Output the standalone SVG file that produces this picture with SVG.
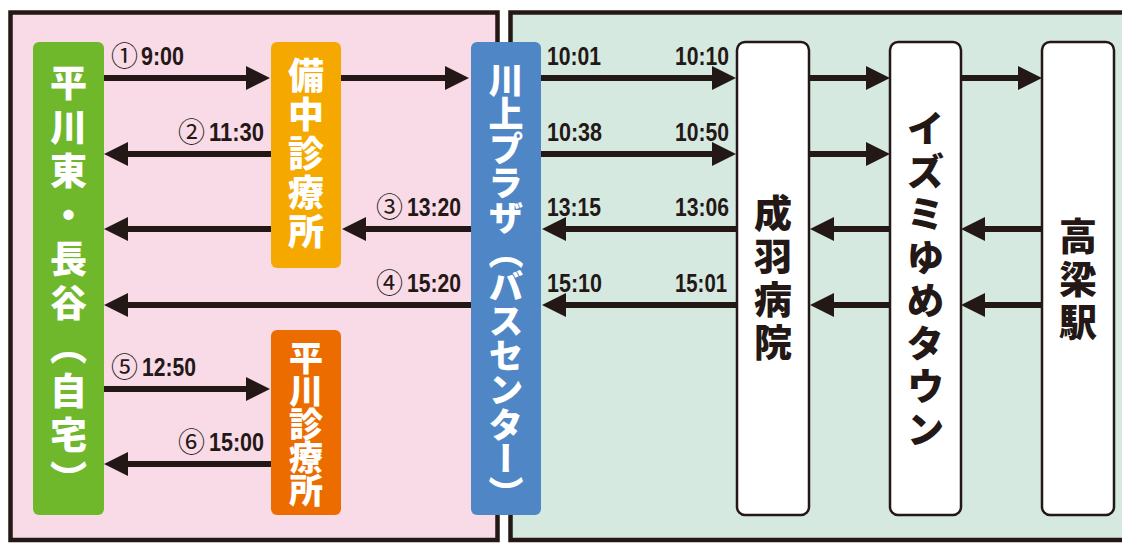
<svg xmlns="http://www.w3.org/2000/svg" width="1122" height="543" viewBox="0 0 1122 543">
<defs>
<marker id="ah" markerUnits="userSpaceOnUse" markerWidth="24" markerHeight="24" refX="4" refY="12" orient="auto">
<path d="M0,0 L24,12 L0,24 Z" fill="#231815"/>
</marker>
<style>
.conn line{stroke:#231815;stroke-width:6;marker-end:url(#ah)}
.num{font-family:"Noto Sans CJK JP",sans-serif;font-size:27px;fill:#231815}
.tm{font-family:"Liberation Sans Narrow","Liberation Sans",sans-serif;font-weight:bold;font-size:25px;fill:#231815}
.vt{font-family:"Noto Sans CJK JP",sans-serif;font-weight:900;writing-mode:vertical-rl;text-anchor:middle}
.w{fill:#ffffff}
.b{fill:#231815}
.wbox{fill:#ffffff;stroke:#231815;stroke-width:2.5}
</style>
</defs>
<rect x="0" y="0" width="1122" height="543" fill="#ffffff"/>
<g id="panel-left">
<rect x="10.5" y="12.5" width="487" height="527.5" fill="#f8dbe7" stroke="#231815" stroke-width="4.5"/>
</g>
<g id="panel-right">
<rect x="510.5" y="12.5" width="700" height="527.5" fill="#d5e9e0" stroke="#231815" stroke-width="4.5"/>
</g>
<g id="connectors" class="conn">
<line x1="104" y1="78" x2="250" y2="78"/>
<line x1="341" y1="78" x2="449" y2="78"/>
<line x1="271" y1="154" x2="124" y2="154"/>
<line x1="271" y1="229" x2="124" y2="229"/>
<line x1="471" y1="229" x2="362" y2="229"/>
<line x1="471" y1="305" x2="124" y2="305"/>
<line x1="104" y1="389" x2="250" y2="389"/>
<line x1="271" y1="464" x2="124" y2="464"/>
<line x1="541" y1="78" x2="716" y2="78"/>
<line x1="809" y1="78" x2="870" y2="78"/>
<line x1="961" y1="78" x2="1022" y2="78"/>
<line x1="541" y1="154" x2="716" y2="154"/>
<line x1="809" y1="154" x2="870" y2="154"/>
<line x1="737" y1="229" x2="562" y2="229"/>
<line x1="890" y1="229" x2="830" y2="229"/>
<line x1="1042" y1="229" x2="981" y2="229"/>
<line x1="737" y1="305" x2="562" y2="305"/>
<line x1="890" y1="305" x2="830" y2="305"/>
<line x1="1042" y1="305" x2="981" y2="305"/>
</g>
<g id="labels">
<text class="num" x="111" y="66">①</text><text class="tm" x="141" y="65" textLength="43" lengthAdjust="spacingAndGlyphs">9:00</text>
<text class="num" x="178" y="142">②</text><text class="tm" x="209" y="141" textLength="55" lengthAdjust="spacingAndGlyphs">11:30</text>
<text class="num" x="376" y="217">③</text><text class="tm" x="407" y="216" textLength="54" lengthAdjust="spacingAndGlyphs">13:20</text>
<text class="num" x="376" y="293">④</text><text class="tm" x="407" y="292" textLength="54" lengthAdjust="spacingAndGlyphs">15:20</text>
<text class="num" x="111" y="377">⑤</text><text class="tm" x="142" y="376" textLength="54" lengthAdjust="spacingAndGlyphs">12:50</text>
<text class="num" x="178" y="452">⑥</text><text class="tm" x="209" y="451" textLength="55" lengthAdjust="spacingAndGlyphs">15:00</text>
<text class="tm" x="547" y="65" textLength="54" lengthAdjust="spacingAndGlyphs">10:01</text>
<text class="tm" x="675" y="65" textLength="54" lengthAdjust="spacingAndGlyphs">10:10</text>
<text class="tm" x="547" y="141" textLength="55" lengthAdjust="spacingAndGlyphs">10:38</text>
<text class="tm" x="675" y="141" textLength="54" lengthAdjust="spacingAndGlyphs">10:50</text>
<text class="tm" x="547" y="216" textLength="54" lengthAdjust="spacingAndGlyphs">13:15</text>
<text class="tm" x="675" y="216" textLength="54" lengthAdjust="spacingAndGlyphs">13:06</text>
<text class="tm" x="547" y="292" textLength="55" lengthAdjust="spacingAndGlyphs">15:10</text>
<text class="tm" x="675" y="292" textLength="52" lengthAdjust="spacingAndGlyphs">15:01</text>
</g>
<g id="node-home">
<rect x="33" y="42" width="71" height="473" rx="6" fill="#6fb82c"/>
<text class="vt w" x="68.5" y="284" font-size="37" letter-spacing="7">平川東・長谷（自宅）</text>
</g>
<g id="node-bicchu">
<rect x="271" y="42" width="70" height="226" rx="6" fill="#f5a800"/>
<text class="vt w" x="306" y="155" font-size="36" letter-spacing="3">備中診療所</text>
</g>
<g id="node-hirakawa">
<rect x="271" y="330" width="70" height="185" rx="6" fill="#ec6c00"/>
<text class="vt w" x="306" y="424" font-size="34" letter-spacing="-1">平川診療所</text>
</g>
<g id="node-kawakami">
<rect x="471" y="42" width="70" height="473" rx="6" fill="#4e86c6"/>
<text class="vt w" x="506" y="286" font-size="35" letter-spacing="-0.5">川上プラザ（バスセンター）</text>
</g>
<g id="node-nariwa">
<rect class="wbox" x="737" y="42" width="72" height="473" rx="8"/>
<text class="vt b" x="773" y="280" font-size="38" letter-spacing="5">成羽病院</text>
</g>
<g id="node-izumi">
<rect class="wbox" x="890" y="42" width="71" height="473" rx="8"/>
<text class="vt b" x="925.5" y="281" font-size="38" letter-spacing="5">イズミゆめタウン</text>
</g>
<g id="node-takahashi">
<rect class="wbox" x="1042" y="42" width="72" height="473" rx="8"/>
<text class="vt b" x="1078" y="281" font-size="38" letter-spacing="5">高梁駅</text>
</g>
</svg>
